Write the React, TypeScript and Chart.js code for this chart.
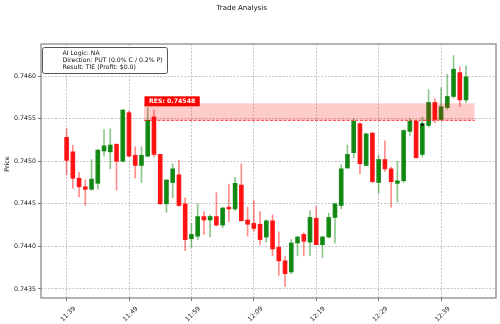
import React, { useEffect, useRef } from "react";
import { Chart, registerables } from "chart.js";
Chart.register(...registerables);

const TITLE = "Trade Analysis";
const Y_LABEL = "Price";
const TIME_TICKS = [0, 10, 20, 30, 40, 50, 60];
const TIME_LABELS = ["11:39", "11:49", "11:59", "12:09", "12:19", "12:29", "12:39"];
const PRICE_TICKS = [0.7435, 0.744, 0.7445, 0.745, 0.7455, 0.746];

const OPEN = [
  0.74528, 0.74511, 0.7448, 0.7447, 0.74467, 0.74474, 0.74512, 0.74511, 0.7452, 0.745,
  0.74557, 0.74507, 0.74495, 0.74506, 0.74552, 0.74508, 0.7445, 0.74475, 0.74484, 0.7445,
  0.74409, 0.74412, 0.74435, 0.74431, 0.74435, 0.74425, 0.74446, 0.74444, 0.74472, 0.74431,
  0.74427, 0.74426, 0.74411, 0.7443, 0.74399, 0.74383, 0.7437, 0.74404, 0.74414, 0.74405,
  0.74433, 0.74402, 0.74411, 0.74434, 0.74448, 0.74492, 0.7451, 0.74544, 0.74495, 0.74533,
  0.74475, 0.74502, 0.74491, 0.74474, 0.74477, 0.74535, 0.74547, 0.74508, 0.74542, 0.74569,
  0.74549, 0.74563, 0.74576, 0.74604, 0.74572,
];
const HIGH = [
  0.74538, 0.74519, 0.74487, 0.74478, 0.74502, 0.74514, 0.74537, 0.74538, 0.7452, 0.74561,
  0.74559, 0.74517, 0.74517, 0.74563, 0.7456, 0.74508, 0.74478, 0.74497, 0.74501, 0.74457,
  0.74427, 0.7445, 0.74441, 0.74437, 0.74463, 0.74446, 0.74473, 0.74481, 0.74497, 0.74446,
  0.74454, 0.74441, 0.74431, 0.74437, 0.74417, 0.74388, 0.74408, 0.74412, 0.74416, 0.74442,
  0.74447, 0.74412, 0.74439, 0.7445, 0.74496, 0.74519, 0.7455, 0.74545, 0.74533, 0.74534,
  0.74507, 0.74524, 0.74493, 0.745, 0.74537, 0.7455, 0.74548, 0.74552, 0.74584, 0.74574,
  0.74586, 0.74602, 0.74624, 0.74611, 0.74612,
];
const LOW = [
  0.74484, 0.74468, 0.74458, 0.74448, 0.74466, 0.74467, 0.74506, 0.74491, 0.74466, 0.74499,
  0.74505, 0.7448, 0.74475, 0.74505, 0.74505, 0.74449, 0.7444, 0.74457, 0.74447, 0.74395,
  0.74399, 0.74408, 0.74414, 0.74411, 0.74424, 0.74422, 0.74429, 0.74442, 0.7443, 0.74412,
  0.74418, 0.74402, 0.74405, 0.74389, 0.74366, 0.74353, 0.74368, 0.74389, 0.74389, 0.74389,
  0.74402, 0.74387, 0.7441, 0.74404, 0.74444, 0.74492, 0.74504, 0.74485, 0.74495, 0.74475,
  0.74462, 0.74488, 0.74446, 0.74452, 0.74475, 0.7453, 0.74504, 0.74505, 0.7454, 0.74545,
  0.74548, 0.74561, 0.74574, 0.74564, 0.74569,
];
const CLOSE = [
  0.74501, 0.7448, 0.7447, 0.74467, 0.74479, 0.74513, 0.74518, 0.74519, 0.745, 0.7456,
  0.74506, 0.74495, 0.74507, 0.74548, 0.74508, 0.7445, 0.74478, 0.74491, 0.74448, 0.74408,
  0.74414, 0.74435, 0.74431, 0.74435, 0.74425, 0.74445, 0.74444, 0.74474, 0.7443, 0.74426,
  0.74421, 0.74408, 0.7443, 0.74397, 0.74383, 0.74368, 0.74404, 0.74411, 0.74406, 0.74434,
  0.74402, 0.74411, 0.74434, 0.7445, 0.74491, 0.74508, 0.74547, 0.74497, 0.74532, 0.74476,
  0.74502, 0.74491, 0.74476, 0.74477, 0.74536, 0.74547, 0.74504, 0.74544, 0.74569, 0.74549,
  0.74564, 0.74576, 0.74608, 0.74572, 0.74599,
];

const RES_LEVEL = 0.74548;
const ZONE_TOP = 0.74568;
const ZONE_START = 12.4;
const ZONE_END = 65.4;
const ENTRY_INDEX = 57;
const ENTRY_PRICE = 0.74543;
const INFO_LINES = ["AI Logic: NA", "Direction: PUT (0.0% C / 0.2% P)", "Result: TIE (Profit: $0.0)"];

const X_MIN = -4.1;
const X_MAX = 68.8;
const Y_MIN = 0.743394;
const Y_MAX = 0.746376;

const FONT = "'DejaVu Sans', sans-serif";
const UP = "rgba(0,128,0,0.9)";
const DOWN = "rgba(255,0,0,0.9)";
const UP_W = "rgba(0,128,0,0.45)";
const DOWN_W = "rgba(255,0,0,0.45)";

const isUp = (i: number) => CLOSE[i] >= OPEN[i];

const decor = {
  id: "decor",
  afterDatasetsDraw(chart: any) {
    const { ctx, chartArea, scales } = chart;
    const xs = scales.x;
    const ys = scales.y;
    ctx.save();
    // RES label
    const txt = `RES: ${RES_LEVEL.toFixed(5)}`;
    ctx.font = `bold 6.2px ${FONT}`;
    const tw = ctx.measureText(txt).width;
    const bx = xs.getPixelForValue(ZONE_START) + 0.5;
    const bBottom = ys.getPixelForValue(RES_LEVEL) - 14;
    const bh = 10;
    ctx.fillStyle = "#ff0000";
    ctx.fillRect(bx, bBottom - bh, tw + 9, bh);
    ctx.fillStyle = "#ffffff";
    ctx.textAlign = "left";
    ctx.textBaseline = "middle";
    ctx.fillText(txt, bx + 4.5, bBottom - bh / 2 + 0.5);
    // frame
    ctx.strokeStyle = "#8a8a8a";
    ctx.lineWidth = 1.3;
    ctx.strokeRect(chartArea.left, chartArea.top, chartArea.right - chartArea.left, chartArea.bottom - chartArea.top);
    // info box
    const ix = chartArea.left + 1.5;
    const iy = chartArea.top + 3.5;
    const iw = 125;
    const ih = 26;
    ctx.beginPath();
    ctx.roundRect(ix, iy, iw, ih, 2);
    ctx.fillStyle = "rgba(255,255,255,0.85)";
    ctx.fill();
    ctx.strokeStyle = "#555";
    ctx.lineWidth = 1;
    ctx.stroke();
    ctx.font = `6.2px ${FONT}`;
    ctx.fillStyle = "#111";
    ctx.textBaseline = "middle";
    INFO_LINES.forEach((l, k) => ctx.fillText(l, ix + 20, iy + 6 + k * 7));
    ctx.restore();
  },
  afterDraw(chart: any) {
    const { ctx, chartArea } = chart;
    ctx.save();
    ctx.fillStyle = "#111";
    ctx.font = `7px ${FONT}`;
    ctx.textAlign = "center";
    ctx.textBaseline = "middle";
    ctx.fillText(TITLE, chart.width * 0.4834, 8);
    ctx.translate(7, (chartArea.top + chartArea.bottom) / 2 - 7);
    ctx.rotate(-Math.PI / 2);
    ctx.font = `6.3px ${FONT}`;
    ctx.fillText(Y_LABEL, 0, 0);
    ctx.restore();
  },
};

export default function App() {
  const ref = useRef<HTMLCanvasElement>(null);
  useEffect(() => {
    document.body.style.margin = "0";
    const canvas = ref.current!;
    const idx = OPEN.map((_, i) => i);
    const chart = new Chart(canvas, {
      type: "bar",
      data: {
        datasets: [
          {
            type: "bar",
            data: idx.map((i) => ({ x: i, y: [LOW[i], HIGH[i]] })) as any,
            backgroundColor: idx.map((i) => (isUp(i) ? UP_W : DOWN_W)),
            barThickness: 1,
            grouped: false,
            borderWidth: 0,
            order: 4,
          } as any,
          {
            type: "bar",
            data: idx.map((i) => ({ x: i, y: [OPEN[i], CLOSE[i]] })) as any,
            backgroundColor: idx.map((i) => (isUp(i) ? UP : DOWN)),
            barThickness: 4,
            minBarLength: 1,
            grouped: false,
            borderWidth: 0,
            order: 3,
          } as any,
          {
            type: "line",
            data: [
              { x: ZONE_START, y: ZONE_TOP },
              { x: ZONE_END, y: ZONE_TOP },
            ],
            borderWidth: 0,
            pointRadius: 0,
            fill: { value: RES_LEVEL },
            backgroundColor: "rgba(255,0,0,0.2)",
            order: 2,
          } as any,
          {
            type: "line",
            data: [
              { x: ZONE_START, y: RES_LEVEL },
              { x: ZONE_END, y: RES_LEVEL },
            ],
            borderColor: "rgba(255,0,0,0.8)",
            borderWidth: 1,
            borderDash: [3, 1.5],
            pointRadius: 0,
            fill: false,
            order: 1,
          } as any,
          {
            type: "line",
            data: [{ x: ENTRY_INDEX, y: ENTRY_PRICE }],
            showLine: false,
            pointStyle: "rect",
            pointRadius: 1.6,
            backgroundColor: "#000",
            borderColor: "#000",
            borderWidth: 0,
            order: 0,
          } as any,
        ],
      },
      options: {
        responsive: false,
        animation: false,
        devicePixelRatio: 1,
        layout: { padding: { top: 44, right: 4, left: 0, bottom: 0 } },
        plugins: { legend: { display: false }, tooltip: { enabled: false }, title: { display: false } },
        scales: {
          x: {
            type: "linear",
            min: X_MIN,
            max: X_MAX,
            offset: false,
            afterBuildTicks: (s: any) => {
              s.ticks = TIME_TICKS.map((v) => ({ value: v }));
            },
            afterFit: (s: any) => {
              s.height = 26;
            },
            ticks: {
              autoSkip: false,
              minRotation: 45,
              maxRotation: 45,
              padding: 4,
              labelOffset: 8,
              color: "#222",
              font: { family: FONT, size: 6.3 },
              callback: (v: any) => TIME_LABELS[TIME_TICKS.indexOf(Number(v))] ?? "",
            },
            grid: {
              offset: false,
              color: "rgba(120,120,120,0.55)",
              lineWidth: 0.8,
              tickLength: 3,
              tickColor: "#555",
              tickBorderDash: [],
            },
            border: { display: false, dash: [2, 1.5] },
          } as any,
          y: {
            type: "linear",
            min: Y_MIN,
            max: Y_MAX,
            beginAtZero: false,
            afterBuildTicks: (s: any) => {
              s.ticks = PRICE_TICKS.map((v) => ({ value: v }));
            },
            afterFit: (s: any) => {
              s.width = 41;
            },
            ticks: {
              padding: 2,
              color: "#222",
              font: { family: FONT, size: 6.3 },
              callback: (v: any) => Number(v).toFixed(4),
            },
            grid: {
              color: "rgba(120,120,120,0.55)",
              lineWidth: 0.8,
              tickLength: 3,
              tickColor: "#555",
              tickBorderDash: [],
            },
            border: { display: false, dash: [2, 1.5] },
          } as any,
        },
      },
      plugins: [decor as any],
    });
    return () => chart.destroy();
  }, []);
  return (
    <div style={{ width: 500, height: 324, background: "#fff" }}>
      <canvas ref={ref} width={500} height={324} style={{ display: "block" }} />
    </div>
  );
}
